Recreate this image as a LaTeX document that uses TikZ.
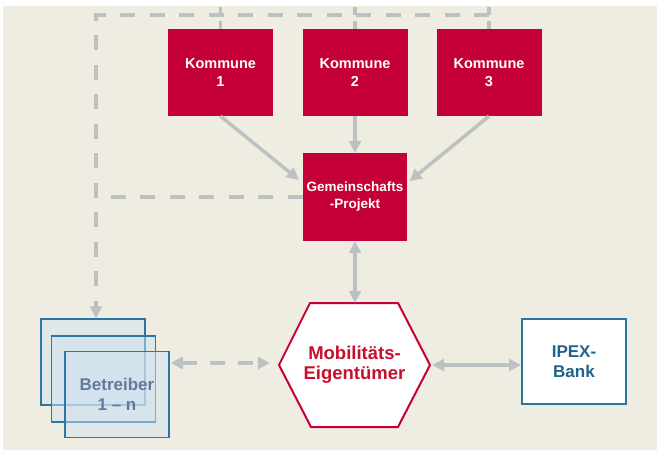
\documentclass[tikz,border=0pt]{standalone}
\usepackage{fontspec}
\setmainfont{Liberation Sans}
\usetikzlibrary{arrows.meta,calc}
\definecolor{bg}{RGB}{239,237,226}
\definecolor{kred}{RGB}{197,0,56}
\definecolor{hred}{RGB}{200,16,46}
\definecolor{agray}{RGB}{190,193,196}
\definecolor{bblue}{RGB}{43,118,164}
\definecolor{bfill}{RGB}{208,227,240}
\definecolor{btext}{RGB}{98,122,158}
\definecolor{iblue}{RGB}{31,99,145}
\begin{document}
\begin{tikzpicture}[x=1pt,y=-1pt,
  >={Triangle[length=12pt,width=12pt]},
  redbox/.style={fill=kred, draw=none, minimum width=105pt, minimum height=87pt, inner sep=0pt, align=center, text=white, font=\bfseries\fontsize{14.5}{18}\selectfont},
  gembox/.style={fill=kred, draw=none, minimum width=104pt, minimum height=88pt, inner sep=0pt, align=center, text=white, font=\bfseries\fontsize{13.5}{17}\selectfont},
  stackbox/.style={draw=bblue, line width=1.5pt, fill=bfill, fill opacity=0.5, text opacity=1, minimum width=104pt, minimum height=86pt, inner sep=0pt},
  bankbox/.style={draw=bblue, line width=2pt, fill=white, minimum width=104pt, minimum height=85pt, inner sep=0pt, align=center, text=iblue, font=\bfseries\fontsize{17}{20}\selectfont},
  dashline/.style={draw=agray, line width=3.5pt, dash pattern=on 15pt off 14.5pt},
  stubline/.style={draw=agray, line width=3.5pt, dash pattern=on 8pt off 6pt},
  arr/.style={draw=agray, line width=3.5pt}
]
\useasboundingbox (0,0) rectangle (657,450);
\fill[bg] (3,6) rectangle (657,450);

% nodes
\node[redbox] (k1) at (220.5,72.5) {Kommune\\1};
\node[redbox] (k2) at (355,72.5) {Kommune\\2};
\node[redbox] (k3) at (489,72.5) {Kommune\\3};
\node[gembox] (gem) at (355,197) {Gemeinschafts\\-Projekt};

\node[stackbox] (b1) at (93,362) {};
\node[stackbox] (b2) at (103.5,379) {};
\node[stackbox, align=center, text=btext, font=\bfseries\fontsize{17}{20}\selectfont] (b3) at (117,394.5) {Betreiber\\1 – n};

\coordinate (hc) at (354.5,365);
\draw[draw=kred, line width=2pt, fill=white, line join=miter]
  ($(hc)+(-75.5,0)$) -- ($(hc)+(-44.5,-62)$) -- ($(hc)+(43.5,-62)$) --
  ($(hc)+(75.5,0)$) -- ($(hc)+(43.5,62)$) -- ($(hc)+(-43.5,62)$) -- cycle;
\node[minimum width=151pt, minimum height=124pt, inner sep=0pt, align=center, text=hred, font=\bfseries\fontsize{18.5}{20}\selectfont] (hex) at (hc) {Mobilitäts-\\Eigentümer};

\node[bankbox] (ipex) at (574,361.5) {IPEX-\\Bank};

% dashed structure
\coordinate (tl) at (96,15);
\coordinate (tr) at (489,15);
\coordinate (st) at (0,7);
\coordinate (gl) at (110,197);
\draw[dashline, ->] (tr) -- (tl) -- (tl |- b1.north);
\draw[dashline] (gem.west) -- (gl);
\draw[stubline] (k1.north) -- (k1.north |- st);
\draw[stubline] (k2.north) -- (k2.north |- st);
\draw[stubline] (k3.north) -- (k3.north |- st);

% solid arrows
\draw[arr, ->, shorten >=5pt] (k1.south) -- (gem.165);
\draw[arr, ->] (k2.south) -- (k2.south |- gem.north);
\draw[arr, ->, shorten >=3pt] (k3.south) -- (gem.15);
\draw[arr, <->] (gem.south) -- (gem.south |- hex.north);
\draw[arr, <->, shorten <=2pt] (hex.east) -- (hex.east -| ipex.west);

% dashed double arrow
\draw[dashline, <->, dash pattern=on 15pt off 13pt, shorten >=9pt, shorten <=1pt] ($(hex.west -| b3.east)+(0,-2)$) -- ($(hex.west)+(0,-2)$);
\end{tikzpicture}
\end{document}
